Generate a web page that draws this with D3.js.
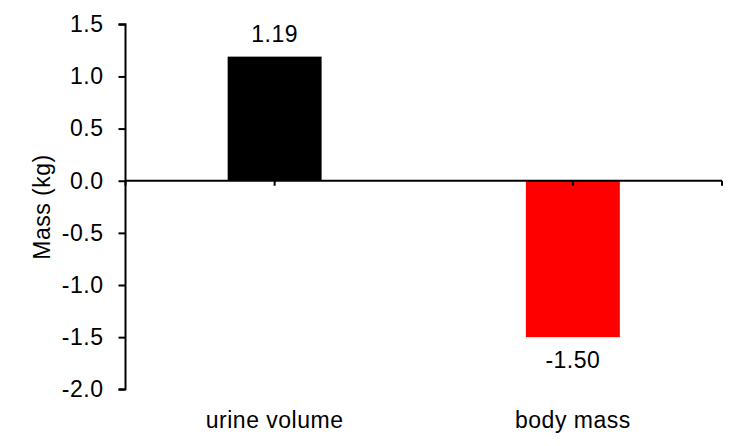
<!DOCTYPE html>
<html><head><meta charset="utf-8">
<script src="https://cdn.jsdelivr.net/npm/d3@7"></script>
<style>body{margin:0;background:#fff}svg{display:block}text{font-family:"Liberation Sans",Arial,sans-serif;fill:#000;letter-spacing:0.5px}</style>
</head><body><svg id="c" width="745" height="446"></svg>
<script>
const categories = ["urine volume", "body mass"];
const values = [1.19, -1.50];
const colors = ["#000000", "#ff0000"];
const valueLabels = ["1.19", "-1.50"];
const yTicks = [1.5, 1.0, 0.5, 0.0, -0.5, -1.0, -1.5, -2.0];
const yTitle = "Mass (kg)";

const svg = d3.select("#c");
const mLeft = 125.5, mRight = 722, mTop = 24.3, mBottom = 389.3;
const fs = 23;

const y = d3.scaleLinear().domain([-2.0, 1.5]).range([mBottom, mTop]);
const x = d3.scaleBand().domain(categories).range([mLeft, mRight]).paddingInner(0.685).paddingOuter(0.3425);

// bars
svg.selectAll("rect.bar").data(values).join("rect")
  .attr("x", (d, i) => x(categories[i]))
  .attr("width", x.bandwidth())
  .attr("y", d => y(Math.max(0, d)))
  .attr("height", d => Math.abs(y(d) - y(0)))
  .attr("fill", (d, i) => colors[i]);

// y axis
const yAxis = svg.append("g").attr("transform", `translate(${mLeft},0)`)
  .call(d3.axisLeft(y).tickValues(yTicks).tickFormat(d3.format(".1f")).tickSize(7).tickPadding(15));
yAxis.select(".domain").attr("stroke", "#000").attr("stroke-width", 2).attr("d", `M-7,${mTop}H0V${mBottom}H-7`);
yAxis.selectAll(".tick line").attr("stroke", "#000").attr("stroke-width", 2);
yAxis.selectAll(".tick text").attr("font-size", fs).attr("font-family", "Liberation Sans, Arial, sans-serif").attr("fill", "#000");
yAxis.selectAll(".tick text").text(d => d3.format(".1f")(d).replace("−", "-"));

// x axis at zero
const xAxis = svg.append("g").attr("transform", `translate(0,${y(0)})`);
const xTickPos = [mLeft, ...categories.map(c => x(c) + x.bandwidth() / 2), mRight];
xAxis.append("line").attr("x1", mLeft).attr("x2", mRight).attr("stroke", "#000").attr("stroke-width", 2);
xAxis.selectAll("line.t").data(xTickPos).join("line").attr("class", "t")
  .attr("x1", d => d).attr("x2", d => d).attr("y1", 0).attr("y2", 5)
  .attr("stroke", "#000").attr("stroke-width", 2);

// value labels
svg.selectAll("text.val").data(values).join("text").attr("class", "val")
  .attr("x", (d, i) => x(categories[i]) + x.bandwidth() / 2)
  .attr("y", d => d >= 0 ? y(d) - 15 : y(d) + 31)
  .attr("text-anchor", "middle").attr("font-size", fs)
  .text((d, i) => valueLabels[i]);

// category labels
svg.selectAll("text.cat").data(categories).join("text").attr("class", "cat")
  .attr("x", d => x(d) + x.bandwidth() / 2)
  .attr("y", 428)
  .attr("text-anchor", "middle").attr("font-size", fs)
  .text(d => d);

// y title
svg.append("text").attr("transform", "translate(50,207) rotate(-90)")
  .attr("text-anchor", "middle").attr("font-size", fs).text(yTitle);
</script></body></html>
